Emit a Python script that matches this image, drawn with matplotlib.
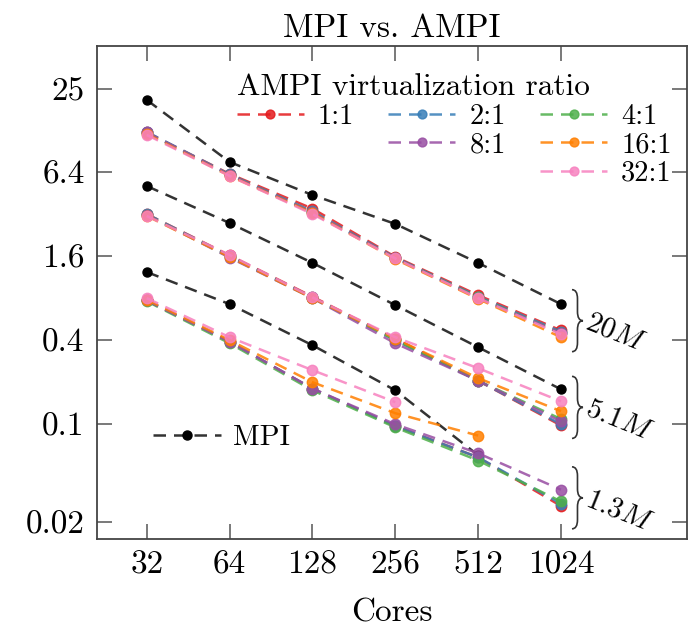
import numpy as np
import matplotlib
matplotlib.use('Agg')
import matplotlib.pyplot as plt
from matplotlib.lines import Line2D
from matplotlib.path import Path
from matplotlib.patches import PathPatch
from matplotlib.ticker import FixedLocator, NullLocator

plt.rcParams['font.family'] = 'serif'
plt.rcParams['font.serif'] = ['cmr10']
plt.rcParams['mathtext.fontset'] = 'cm'
plt.rcParams['axes.formatter.use_mathtext'] = True

nan = np.nan
cores = [32, 64, 128, 256, 512, 1024]
ratios = ['1:1', '2:1', '4:1', '8:1', '16:1', '32:1']
colours = ['#e41a1c', '#377eb8', '#4daf4a', '#984ea3', '#ff7f00', '#f781bf']
sizes = ['20M', '5.1M', '1.3M']

# MPI timings, one list per problem size
mpi_20M = [21.0, 7.55, 4.38, 2.72, 1.43, 0.725]
mpi_5M = [5.08, 2.76, 1.43, 0.713, 0.356, 0.178]
mpi_1M = [1.23, 0.725, 0.368, 0.175, 0.060, nan]

# AMPI timings, rows follow ratios
ampi_20M = [[12.3, 6.2, 3.5, 1.58, 0.84, 0.47],
            [12.4, 6.15, 3.35, 1.56, 0.82, 0.46],
            [12.2, 6.1, 3.3, 1.55, 0.81, 0.45],
            [12.3, 6.1, 3.3, 1.55, 0.80, 0.45],
            [12.0, 6.0, 3.25, 1.52, 0.79, 0.42],
            [11.8, 6.0, 3.2, 1.54, 0.80, 0.44]]
ampi_5M = [[3.2, 1.62, 0.82, 0.41, 0.205, 0.098],
           [3.2, 1.6, 0.81, 0.40, 0.205, 0.10],
           [3.15, 1.58, 0.80, 0.40, 0.205, 0.109],
           [3.15, 1.56, 0.80, 0.38, 0.205, 0.105],
           [3.1, 1.58, 0.80, 0.41, 0.214, 0.124],
           [3.1, 1.63, 0.81, 0.42, 0.252, 0.146]]
ampi_1M = [[0.77, 0.39, 0.18, 0.097, 0.058, 0.026],
           [0.77, 0.39, 0.18, 0.097, 0.058, 0.027],
           [0.76, 0.38, 0.175, 0.095, 0.055, 0.028],
           [0.77, 0.39, 0.18, 0.10, 0.062, 0.034],
           [0.78, 0.40, 0.20, 0.12, 0.083, nan],
           [0.80, 0.42, 0.244, 0.144, nan, nan]]

yticks = [0.02, 0.1, 0.4, 1.6, 6.4, 25]
ytick_labels = ['0.02', '0.1', '0.4', '1.6', '6.4', '25']

fig = plt.figure(figsize=(6.88, 6.36), dpi=100)
ax = fig.add_axes([0.141, 0.152, 0.857, 0.776])

dash = (0, (5, 3.2))
lw = 1.8
mpi_sets = [mpi_20M, mpi_5M, mpi_1M]
ampi_sets = [ampi_20M, ampi_5M, ampi_1M]

handles = []
for mpi, ampi in zip(mpi_sets, ampi_sets):
    ax.plot(cores, mpi, linestyle=dash, color='#333333', lw=lw,
            marker='o', ms=6.5, mfc='black', mec='black', zorder=2)
    hs = []
    for row, c in zip(ampi, colours):
        h, = ax.plot(cores, row, linestyle=dash, color=c, lw=lw, alpha=0.85,
                     marker='o', ms=7.5, zorder=3)
        hs.append(h)
    handles = hs

ax.set_xscale('log', base=2)
ax.set_yscale('log')
ax.set_xlim(21.1, 2930)
ax.set_ylim(0.015, 51.3)
ax.xaxis.set_major_locator(FixedLocator(cores))
ax.set_xticklabels([str(c) for c in cores])
ax.xaxis.set_minor_locator(NullLocator())
ax.yaxis.set_major_locator(FixedLocator(yticks))
ax.set_yticklabels(ytick_labels)
ax.yaxis.set_minor_locator(NullLocator())
ax.tick_params(direction='in', length=11, width=1.1, top=True, right=True,
               labelsize=24, color='#555555', pad=9)
ax.tick_params(axis='x', pad=8)
for s in ax.spines.values():
    s.set_linewidth(1.3)
    s.set_color('#444444')

ax.set_title('MPI vs. AMPI', fontsize=24, pad=6)
ax.set_xlabel('Cores', fontsize=24, labelpad=14)

# legend laid out as a staircase with empty slots
blank = Line2D([], [], alpha=0)
order = [handles[0], blank, blank, handles[1], handles[3], blank,
         handles[2], handles[4], handles[5]]
labels = [ratios[0], '', '', ratios[1], ratios[3], '', ratios[2], ratios[4], ratios[5]]
leg = ax.legend(order, labels, ncol=3, title='AMPI virtualization ratio',
                loc='upper left', bbox_to_anchor=(0.344, 0.885, 0, 0),
                bbox_transform=fig.transFigure, frameon=False, fontsize=20.5,
                title_fontsize=22.5, handlelength=2.35, handletextpad=0.5,
                columnspacing=1.2, labelspacing=0.08, alignment='left',
                borderpad=0, borderaxespad=0, markerscale=0.85)
ax.add_artist(leg)
mpi_h = Line2D([], [], linestyle=dash, color='#333333', lw=lw,
               marker='o', ms=6.5, mfc='black', mec='black')
ax.legend([mpi_h], ['MPI'], loc='center left', bbox_to_anchor=(0.222, 0.311),
          bbox_transform=fig.transFigure, frameon=False, fontsize=21,
          handlelength=2.35, handletextpad=0.4, borderpad=0, borderaxespad=0)

# braces next to the last core count, one per problem size
fig.canvas.draw()
H = fig.get_figheight() * fig.dpi
for mpi, ampi, name in zip(mpi_sets, ampi_sets, sizes):
    vals = [v for v in [mpi[-1]] + [r[-1] for r in ampi] if not np.isnan(v)]
    ymid = np.sqrt(max(vals) * min(vals))
    px, py = ax.transData.transform((cores[-1], ymid))
    x0 = px + 11
    a = 5.5
    r = 9
    h = 31
    yt, yb = py + h, py - h
    verts = [(x0, yt), (x0 + a, yt), (x0 + a, yt - r),
             (x0 + a, py + r), (x0 + a, py), (x0 + 2 * a, py),
             (x0 + a, py), (x0 + a, py - r),
             (x0 + a, yb + r), (x0 + a, yb), (x0, yb)]
    codes = [Path.MOVETO, Path.CURVE3, Path.CURVE3,
             Path.LINETO, Path.CURVE3, Path.CURVE3,
             Path.CURVE3, Path.CURVE3,
             Path.LINETO, Path.CURVE3, Path.CURVE3]
    patch = PathPatch(Path(verts, codes), fill=False, lw=1.2, ec='#333333',
                      transform=None, clip_on=False)
    fig.add_artist(patch)
    fig.text((x0 + 2 * a + 4) / fig.dpi / fig.get_figwidth(), py / H,
             '$' + name + '$', fontsize=21, rotation=-22, rotation_mode='anchor',
             ha='left', va='center')

fig.savefig('out.png', dpi=100)
